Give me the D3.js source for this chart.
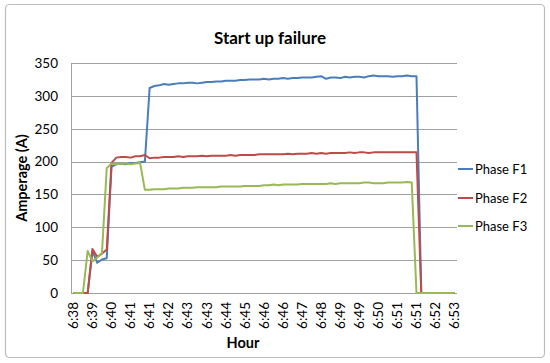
<!DOCTYPE html>
<html><head><meta charset="utf-8">
<script src="https://cdn.jsdelivr.net/npm/d3@7"></script>
<style>body{margin:0;background:#fff}svg{display:block}text{font-family:Lato,"Open Sans",sans-serif}</style>
</head><body>
<svg id="c" width="550" height="363"></svg>
<script>
const title = "Start up failure";
const seriesNames = ["Phase F1", "Phase F2", "Phase F3"];
const seriesColors = ["#4a7ebb", "#be4b48", "#98b954"];
const tickLabels = ["6:38","6:39","6:40","6:41","6:41","6:42","6:43","6:43","6:44","6:45","6:46","6:46","6:47","6:48","6:49","6:49","6:50","6:51","6:51","6:52","6:53"];
const yTicks = [0,50,100,150,200,250,300,350];

const f1 = [0,0,0,0,64,46,51,53,192,196,197,196,198,198,199,200,312,315,316,318,317,318,319,319,320,320,319,320,321,321,322,322,323,323,323,324,324,325,325,325,326,325,326,326,327,326,327,327,328,328,328,329,330,326,328,328,327,329,328,329,329,328,330,331,330,330,330,329,330,330,331,330,330,0,0,0,0,0,0,0,0];
const f2 = [0,0,0,0,67,55,60,66,198,206,207,207,206,208,208,210,205,206,206,207,207,207,208,207,208,208,208,209,208,209,209,209,209,210,209,210,210,210,210,211,211,211,211,211,211,212,211,212,212,212,213,212,213,212,213,213,213,213,214,213,214,214,213,214,214,214,214,214,214,214,214,214,214,0,0,0,0,0,0,0,0];
const f3 = [0,0,0,64,48,54,61,190,197,196,197,197,196,197,198,157,157,158,158,158,159,159,159,160,160,160,161,161,161,161,161,162,162,162,162,162,163,163,163,163,164,164,165,164,165,165,165,165,166,166,166,166,166,166,167,166,167,167,167,167,167,168,168,167,167,167,168,168,168,168,169,168,0,0,0,0,0,0,0,0,0];
const series = [f1, f2, f3];

const svg = d3.select("#c");
const L = 71, R = 457, T = 63, B = 293;
const idx = d3.range(f1.length);
const xb = d3.scaleBand().domain(idx).range([L, R]);
const x = i => xb(i) + xb.bandwidth() / 2;
const y = d3.scaleLinear().domain([0, 350]).range([B, T]);

svg.append("rect").attr("x", 5.5).attr("y", 4.5).attr("width", 539).attr("height", 353)
  .attr("rx", 4).attr("fill", "#fff").attr("stroke", "#bcbcbc").attr("stroke-width", 1.2);

svg.append("text").attr("x", 270).attr("y", 44).attr("text-anchor", "middle")
  .attr("font-size", 17).attr("font-weight", "bold").text(title);

// gridlines
svg.append("g").selectAll("line").data(yTicks.filter(d => d > 0)).join("line")
  .attr("x1", L).attr("x2", R).attr("y1", d => Math.round(y(d)) + 0.5).attr("y2", d => Math.round(y(d)) + 0.5)
  .attr("stroke", "#a0a0a0").attr("stroke-width", 1);

// y axis
const ya = svg.append("g").attr("transform", `translate(${L},0)`)
  .call(d3.axisLeft(y).tickValues(yTicks).tickSize(0).tickPadding(13));
ya.select(".domain").attr("stroke", "#a0a0a0");
ya.selectAll("text").attr("font-size", 13.5).attr("fill", "#000").style("font-family", "Lato");

// x axis
const xa = svg.append("g").attr("transform", `translate(0,${B})`)
  .call(d3.axisBottom(xb).tickValues(idx.filter(i => i % 4 === 0)).tickSize(0)
    .tickFormat(i => tickLabels[i / 4]));
xa.selectAll(".tick").attr("transform", d => `translate(${x(d)},0)`);
xa.select(".domain").attr("stroke", "#a0a0a0").attr("d", `M${L},0.5H${R}`);
xa.selectAll("text").attr("font-size", 13.5).attr("fill", "#000").style("font-family", "Lato")
  .attr("transform", "rotate(-90)").attr("text-anchor", "end").attr("x", -9).attr("y", 0).attr("dy", "0.35em");

// lines
const line = d3.line().x((d, i) => x(i)).y(d => y(d));
series.forEach((s, k) => {
  svg.append("path").datum(s).attr("d", line).attr("fill", "none")
    .attr("stroke", seriesColors[k]).attr("stroke-width", 2).attr("stroke-linejoin", "round");
});

// axis titles
svg.append("text").attr("x", 243).attr("y", 348).attr("text-anchor", "middle")
  .attr("font-size", 14.5).attr("font-weight", "bold").text("Hour");
svg.append("text").attr("transform", "translate(27,178) rotate(-90)").attr("text-anchor", "middle")
  .attr("font-size", 14.5).attr("font-weight", "bold").text("Amperage (A)");

// legend
const lg = svg.append("g");
const ly = [169, 198, 226];
seriesNames.forEach((n, k) => {
  lg.append("line").attr("x1", 458).attr("x2", 473).attr("y1", ly[k]).attr("y2", ly[k])
    .attr("stroke", seriesColors[k]).attr("stroke-width", 2);
  lg.append("text").attr("x", 475).attr("y", ly[k]).attr("dy", "0.35em").attr("font-size", 13).text(n);
});
</script>
</body></html>
